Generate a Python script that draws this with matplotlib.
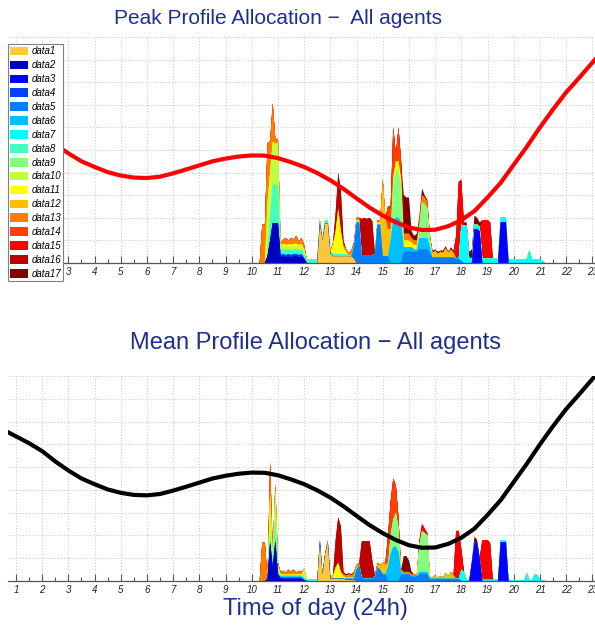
import numpy as np
import matplotlib
matplotlib.use("Agg")
import matplotlib.pyplot as plt

plt.rcParams['font.family'] = ['Liberation Sans', 'DejaVu Sans']

# time grid of the stacked profiles (hours, 6 min steps)
HOURS = np.round(np.arange(103, 213) / 10, 1)

LABELS = ['data%d' % i for i in range(1, 18)]
COLORS = ['#ffc83c', '#0000bf', '#0000ff', '#0040ff', '#0080ff', '#00bfff',
          '#00ffff', '#40ffbf', '#80ff80', '#bfff40', '#ffff00', '#ffbf00',
          '#ff8000', '#ff4000', '#ff0000', '#bf0000', '#800000']

# price curve (hour, value), same for both panels
curve_hours = [0.7, 1.5, 2.0, 2.5, 3.0, 3.5, 4.0, 4.5, 5.0, 5.5, 6.0, 6.5, 7.0, 7.5,
               8.0, 8.5, 9.0, 9.5, 10.0, 10.5, 11.0, 11.5, 12.0, 12.5, 13.0, 13.5,
               14.0, 14.5, 15.0, 15.5, 16.0, 16.5, 17.0, 17.5, 18.0, 18.5, 19.0,
               19.5, 20.0, 20.5, 21.0, 21.5, 22.0, 22.5, 23.1]
curve_values = [6.53, 6.05, 5.7, 5.25, 4.85, 4.5, 4.25, 4.02, 3.87, 3.78, 3.76, 3.82,
                3.97, 4.14, 4.32, 4.5, 4.62, 4.71, 4.76, 4.75, 4.64, 4.46, 4.25, 3.98,
                3.66, 3.28, 2.86, 2.45, 2.1, 1.8, 1.57, 1.46, 1.47, 1.63, 1.9, 2.3,
                2.9, 3.55, 4.35, 5.15, 6.0, 6.8, 7.55, 8.2, 9.0]

# ---- peak profiles (hour, value) ----
peak_data1 = [(12.6, 1.75), (12.7, 1.0), (12.8, 1.75), (12.9, 1.75), (13.0, 0.4), (13.1, 0.3),
              (13.2, 0.3), (13.3, 0.3), (13.4, 0.3), (13.5, 0.3), (13.6, 0.3), (13.7, 0.3),
              (13.8, 0.3), (13.9, 0.2)]
peak_data2 = [(10.6, 0.3), (10.7, 1.0), (10.8, 1.77), (10.9, 1.77), (11.0, 1.77), (11.1, 0.25),
              (11.2, 0.3), (11.3, 0.25), (11.4, 0.3), (11.5, 0.25), (11.6, 0.3), (11.7, 0.3),
              (11.8, 0.25), (11.9, 0.3), (12.0, 0.2)]
peak_data3 = [(18.5, 1.5), (18.6, 1.5), (18.7, 1.4), (19.5, 1.8), (19.6, 1.8), (19.7, 1.8)]
peak_data4 = [(11.1, 0.1), (11.2, 0.1), (11.3, 0.1), (11.4, 0.1), (11.5, 0.1), (11.6, 0.1),
              (11.7, 0.1), (11.8, 0.1), (11.9, 0.1)]
peak_data5 = [(13.9, 0.5), (14.0, 1.8), (14.1, 1.8), (14.2, 0.35), (14.3, 0.35), (14.4, 0.35),
              (14.5, 0.35), (14.6, 0.35), (14.7, 0.4), (14.8, 1.7), (14.9, 1.7), (15.0, 0.3),
              (15.1, 0.3), (15.2, 0.3), (15.8, 0.5), (15.9, 0.5), (16.0, 0.5), (16.1, 0.5),
              (16.2, 0.5), (16.3, 0.5), (16.4, 0.6), (16.5, 0.6), (16.6, 0.6), (16.7, 0.6),
              (16.8, 0.4), (16.9, 0.25), (17.0, 0.25), (17.1, 0.25), (17.2, 0.25), (17.3, 0.25),
              (17.4, 0.25), (17.5, 0.25), (17.6, 0.25), (17.7, 0.25), (17.8, 0.2), (17.9, 0.2),
              (18.0, 0.1)]
peak_data6 = [(15.3, 1.0), (15.4, 1.9), (15.5, 2.0), (15.6, 2.0), (15.7, 1.8), (15.8, 0.2),
              (15.9, 0.2), (16.0, 0.2), (16.1, 0.2), (16.2, 0.1), (16.3, 0.1), (16.4, 0.5),
              (16.5, 0.5), (16.6, 0.5), (16.7, 0.5), (16.8, 0.3)]
peak_data7 = [(18.0, 1.6), (18.1, 1.65), (18.2, 1.65), (18.3, 0.2), (18.4, 0.2), (18.5, 0.2),
              (18.6, 0.2), (18.7, 0.2), (18.8, 0.2), (18.9, 0.2), (19.0, 0.2), (19.1, 0.2),
              (19.2, 0.2), (19.3, 0.2), (19.4, 0.15), (19.5, 0.2), (19.6, 0.2), (19.7, 0.2),
              (19.8, 0.15), (19.9, 0.15), (20.0, 0.15), (20.1, 0.15), (20.2, 0.15), (20.3, 0.15),
              (20.4, 0.15), (20.5, 0.2), (20.6, 0.55), (20.7, 0.15), (20.8, 0.15), (20.9, 0.15),
              (21.0, 0.15), (21.1, 0.1)]
peak_data8 = [(10.7, 1.0), (10.8, 1.7), (10.9, 1.7), (11.0, 1.68), (11.1, 0.2), (11.2, 0.2),
              (11.3, 0.2), (11.4, 0.2), (11.5, 0.2), (11.6, 0.2), (11.7, 0.2), (11.8, 0.2),
              (11.9, 0.2), (12.0, 0.2), (12.1, 0.15), (12.2, 0.15), (12.3, 0.15), (12.4, 0.15),
              (12.5, 0.15), (12.6, 0.15), (12.7, 0.1), (12.8, 0.15), (12.9, 0.15), (13.0, 0.1),
              (13.1, 0.1), (13.2, 0.1), (13.3, 0.1), (13.4, 0.1), (13.5, 0.1), (13.6, 0.1),
              (13.7, 0.05), (13.8, 0.05)]
peak_data9 = [(15.4, 1.5), (15.5, 2.1), (15.6, 2.1), (15.7, 1.6), (16.4, 0.5), (16.5, 1.6),
              (16.6, 1.5), (16.7, 1.3), (16.8, 0.4)]
peak_data10 = [(10.6, 2.4), (10.7, 2.0), (10.8, 1.9), (10.9, 1.8), (11.0, 1.85), (11.1, 0.15),
               (11.2, 0.15), (11.3, 0.15), (11.4, 0.15), (11.5, 0.15), (11.6, 0.15), (11.7, 0.15),
               (11.8, 0.15), (11.9, 0.15), (12.0, 0.2)]
peak_data11 = [(11.1, 0.1), (11.2, 0.1), (11.3, 0.1), (11.4, 0.1), (11.5, 0.1), (11.6, 0.1),
               (11.7, 0.1), (11.8, 0.1), (11.9, 0.1), (13.1, 0.4), (13.2, 1.0), (13.3, 2.0),
               (13.4, 1.0), (13.5, 0.3), (13.6, 0.1), (14.0, 0.1), (14.1, 0.1), (14.8, 0.1),
               (14.9, 0.1), (15.4, 0.4), (15.5, 0.4), (15.6, 0.4), (15.7, 0.3), (15.8, 0.3),
               (15.9, 0.3), (16.0, 0.3), (16.1, 0.2), (16.2, 0.2), (16.3, 0.2)]
peak_data12 = [(15.0, 3.4), (15.1, 1.7), (15.2, 1.2), (15.3, 0.5), (16.9, 0.2), (17.0, 0.3),
               (17.1, 0.15), (17.2, 0.25), (17.3, 0.2), (17.4, 0.4), (17.5, 0.2), (17.6, 0.35),
               (17.7, 0.2)]
peak_data13 = [(10.4, 1.7), (10.5, 1.7), (10.6, 2.6), (10.7, 1.4), (10.8, 1.7), (10.9, 0.2),
               (11.0, 0.2), (11.1, 0.1), (11.2, 0.2), (11.3, 0.3), (11.4, 0.15), (11.5, 0.3),
               (11.6, 0.2), (11.7, 0.35), (11.8, 0.15), (11.9, 0.25), (12.0, 0.2), (13.1, 0.1),
               (13.5, 0.1), (13.6, 0.1), (13.7, 0.1), (13.8, 0.2), (13.9, 0.2), (14.0, 0.1),
               (14.1, 0.1), (14.8, 0.1), (14.9, 0.1), (15.8, 0.3), (15.9, 0.3), (16.0, 0.3),
               (16.1, 0.2), (16.2, 0.2), (16.3, 0.2), (16.4, 0.3), (16.5, 0.3), (16.6, 0.3),
               (16.7, 0.3), (16.8, 0.1)]
peak_data14 = [(15.2, 1.0), (15.3, 1.0), (15.4, 2.2), (15.5, 0.3), (15.6, 1.5), (15.7, 0.8)]
peak_data15 = [(17.8, 1.0), (17.9, 3.4), (18.0, 1.9), (18.8, 1.7), (18.9, 1.7), (19.0, 1.7),
               (19.1, 1.6)]
peak_data16 = [(13.2, 0.8), (13.3, 1.6), (13.4, 1.8), (13.5, 0.2), (14.2, 1.6), (14.3, 1.65),
               (14.4, 1.6), (14.5, 1.65), (14.6, 1.5)]
peak_data17 = [(15.8, 1.7), (15.9, 1.6), (16.0, 1.6), (16.1, 0.3), (16.2, 0.2), (16.3, 0.3),
               (16.4, 0.2), (16.5, 0.3), (16.6, 0.1), (16.7, 0.1), (16.9, 0.1), (17.0, 0.05),
               (17.1, 0.1), (17.2, 0.05), (17.3, 0.1), (17.4, 0.1), (17.5, 0.05), (17.6, 0.1),
               (17.7, 0.1), (18.0, 0.1), (18.1, 0.15), (18.2, 0.15), (18.3, 0.3), (18.4, 0.4),
               (18.5, 0.4), (18.6, 0.3), (18.7, 0.2)]

# ---- mean profiles (hour, value) ----
mean_data1 = [(12.6, 1.7), (12.7, 0.3), (12.8, 1.2), (12.9, 1.7), (13.0, 0.1), (13.1, 0.1),
              (13.2, 0.1), (13.3, 0.1), (13.4, 0.1), (13.5, 0.1), (13.6, 0.05), (13.7, 0.05),
              (13.8, 0.05), (13.9, 0.05)]
mean_data2 = [(10.6, 0.1), (10.7, 1.7), (10.8, 0.6), (10.9, 1.75), (11.0, 0.3), (11.1, 0.1),
              (11.2, 0.1), (11.3, 0.1), (11.4, 0.1), (11.5, 0.1), (11.6, 0.1), (11.7, 0.1),
              (11.8, 0.1), (11.9, 0.1), (12.0, 0.05)]
mean_data3 = [(18.4, 0.8), (18.5, 1.7), (18.6, 1.7), (18.7, 1.0), (19.5, 1.7), (19.6, 1.7),
              (19.7, 1.7)]
mean_data4 = [(11.1, 0.05), (11.2, 0.05), (11.3, 0.05), (11.4, 0.05), (11.5, 0.05), (11.6, 0.05),
              (11.7, 0.05), (11.8, 0.05), (11.9, 0.05)]
mean_data5 = [(13.6, 0.05), (13.7, 0.05), (13.8, 0.05), (13.9, 0.05), (14.0, 0.5), (14.1, 0.7),
              (14.2, 0.15), (14.3, 0.1), (14.4, 0.1), (14.5, 0.1), (14.6, 0.1), (14.7, 0.2),
              (14.8, 0.6), (14.9, 0.5), (15.0, 0.3), (15.1, 0.3), (15.7, 0.3), (15.8, 0.3),
              (15.9, 0.3), (16.0, 0.3), (16.1, 0.2), (16.2, 0.2), (16.3, 0.2), (16.4, 0.3),
              (16.5, 0.3), (16.6, 0.3), (16.7, 0.3), (16.8, 0.1), (16.9, 0.1), (17.0, 0.1),
              (17.1, 0.1), (17.2, 0.1), (17.3, 0.1), (17.4, 0.1), (17.5, 0.1), (17.6, 0.1),
              (17.7, 0.1), (17.8, 0.1), (17.9, 0.1)]
mean_data6 = [(11.1, 0.05), (11.2, 0.05), (11.3, 0.05), (11.4, 0.05), (11.5, 0.05), (11.6, 0.05),
              (11.7, 0.05), (11.8, 0.05), (11.9, 0.05), (15.2, 0.6), (15.3, 1.2), (15.4, 1.5),
              (15.5, 1.5), (15.6, 1.3), (15.7, 0.1), (16.4, 0.1), (16.5, 0.1), (16.6, 0.1),
              (16.7, 0.1)]
mean_data7 = [(18.0, 0.5), (18.1, 0.4), (18.2, 0.05), (18.8, 0.05), (18.9, 0.05), (19.0, 0.05),
              (19.1, 0.05), (19.2, 0.05), (19.3, 0.05), (19.4, 0.05), (19.5, 0.1), (19.6, 0.1),
              (19.7, 0.1), (19.8, 0.05), (19.9, 0.03), (20.0, 0.03), (20.1, 0.03), (20.2, 0.03),
              (20.3, 0.03), (20.4, 0.03), (20.5, 0.35), (20.6, 0.03), (20.7, 0.03), (20.8, 0.3),
              (20.9, 0.25), (21.0, 0.03), (21.1, 0.03)]
mean_data8 = [(10.7, 0.3), (10.8, 0.3), (10.9, 0.9), (11.0, 0.2), (11.1, 0.05), (11.2, 0.05),
              (11.3, 0.05), (11.4, 0.05), (11.5, 0.05), (11.6, 0.05), (11.7, 0.05), (11.8, 0.05),
              (11.9, 0.05), (12.0, 0.1), (12.1, 0.05), (12.2, 0.05), (12.3, 0.05), (12.4, 0.05),
              (12.5, 0.05), (12.6, 0.1), (12.9, 0.1), (13.6, 0.05), (13.7, 0.05), (13.8, 0.05),
              (13.9, 0.05)]
mean_data9 = [(15.3, 0.8), (15.4, 1.2), (15.5, 1.5), (15.6, 1.0), (16.4, 1.2), (16.5, 1.8),
              (16.6, 1.7), (16.7, 1.6), (16.8, 0.1)]
mean_data10 = [(10.7, 1.8), (10.8, 0.3), (10.9, 1.4), (11.0, 0.2), (12.0, 0.4)]
mean_data11 = [(11.1, 0.05), (11.2, 0.05), (11.3, 0.05), (11.4, 0.05), (11.5, 0.05), (11.6, 0.05),
               (11.7, 0.05), (11.8, 0.05), (11.9, 0.05), (13.1, 0.1), (13.2, 0.5), (13.3, 0.7),
               (13.4, 0.3), (13.5, 0.1), (14.0, 0.1)]
mean_data12 = [(14.8, 0.1), (14.9, 0.2), (15.0, 0.5), (15.1, 0.4), (15.2, 0.2), (16.9, 0.05),
               (17.0, 0.15), (17.1, 0.05), (17.2, 0.1), (17.3, 0.05), (17.4, 0.25), (17.5, 0.1),
               (17.6, 0.3), (17.7, 0.15)]
mean_data13 = [(10.4, 1.7), (10.5, 1.7), (10.7, 1.4), (10.8, 0.1), (10.9, 0.2), (11.0, 0.1),
               (11.1, 0.1), (11.2, 0.15), (11.3, 0.05), (11.4, 0.2), (11.5, 0.1), (11.6, 0.2),
               (11.7, 0.05), (11.8, 0.15), (11.9, 0.1), (13.1, 0.05), (13.5, 0.1), (13.6, 0.1),
               (13.7, 0.15), (13.8, 0.1), (13.9, 0.2), (14.0, 0.1), (14.1, 0.1), (14.7, 0.05),
               (14.8, 0.1), (15.1, 0.1), (15.7, 0.1), (15.8, 0.1), (15.9, 0.1), (16.0, 0.1),
               (16.1, 0.1), (16.2, 0.1), (16.3, 0.1)]
mean_data14 = [(15.2, 1.2), (15.3, 1.5), (15.4, 1.8), (15.5, 1.2), (15.6, 0.5)]
mean_data15 = [(16.4, 0.2), (16.5, 0.3), (16.6, 0.2), (16.7, 0.1), (17.8, 2.1), (17.9, 2.1),
               (18.0, 0.9), (18.8, 1.75), (18.9, 1.75), (19.0, 1.75), (19.1, 1.6)]
mean_data16 = [(13.2, 1.2), (13.3, 2.0), (13.4, 2.0), (13.5, 0.1), (14.2, 1.6), (14.3, 1.65),
               (14.4, 1.65), (14.5, 1.65), (14.6, 0.8)]
mean_data17 = [(13.6, 0.05), (13.7, 0.05), (13.8, 0.05), (13.9, 0.05), (15.8, 0.7), (15.9, 0.7),
               (16.0, 0.5), (16.1, 0.1), (18.3, 0.05), (18.4, 0.1), (18.5, 0.25), (18.6, 0.1)]

PEAK = [peak_data1, peak_data2, peak_data3, peak_data4, peak_data5, peak_data6, peak_data7,
        peak_data8, peak_data9, peak_data10, peak_data11, peak_data12, peak_data13,
        peak_data14, peak_data15, peak_data16, peak_data17]
MEAN = [mean_data1, mean_data2, mean_data3, mean_data4, mean_data5, mean_data6, mean_data7,
        mean_data8, mean_data9, mean_data10, mean_data11, mean_data12, mean_data13,
        mean_data14, mean_data15, mean_data16, mean_data17]


def to_grid(points):
    vals = np.zeros(len(HOURS))
    for h, v in points:
        vals[int(round((h - HOURS[0]) * 10))] = v
    return vals


def draw_panel(ax, series, ymax, line_color):
    # cumulative tops; paint the tallest first so no seams show between layers
    tops = np.cumsum([to_grid(pts) for pts in series], axis=0)
    handles = [None] * len(series)
    for i in range(len(series) - 1, -1, -1):
        handles[i] = ax.fill_between(HOURS, 0, tops[i], facecolor=COLORS[i],
                                     lw=0, label=LABELS[i], zorder=2)
    ax.plot(curve_hours, curve_values, color=line_color, lw=3, zorder=3)

    ax.set_xlim(0.695, 23.1)
    ax.set_ylim(0, ymax)
    ax.set_xticks(range(1, 24))
    ax.set_xticks(np.arange(1.5, 23, 1), minor=True)
    ax.set_yticks(range(0, ymax + 1))
    ax.tick_params(axis='y', length=0, labelleft=False)
    ax.tick_params(axis='x', which='major', direction='in', length=5, width=0.8,
                   color='#555555', labelsize=7, pad=3, labelcolor='#222222')
    ax.tick_params(axis='x', which='minor', direction='in', length=3, width=0.8, color='#555555')
    for lbl in ax.get_xticklabels():
        lbl.set_fontstyle('italic')
    ax.grid(True, which='major', linestyle=(0, (1, 2)), color='#c4c4c4', lw=0.7)
    ax.set_axisbelow(True)
    for s in ['left', 'right', 'top']:
        ax.spines[s].set_visible(False)
    ax.spines['bottom'].set_color('#555555')
    ax.spines['bottom'].set_linewidth(0.9)
    return handles


fig = plt.figure(figsize=(5.95, 6.26), dpi=100)
ax1 = fig.add_axes([8 / 595, 1 - 263 / 626, 587 / 595, 226 / 626])
ax2 = fig.add_axes([8 / 595, 1 - 581 / 626, 587 / 595, 205 / 626])

h1 = draw_panel(ax1, PEAK, 10, '#ff0000')
draw_panel(ax2, MEAN, 9, '#000000')

leg = ax1.legend(h1, LABELS, loc='upper left', bbox_to_anchor=(8 / 595, 1 - 44 / 626),
                 bbox_transform=fig.transFigure,
                 prop={'family': 'Liberation Sans', 'style': 'italic', 'size': 7},
                 handlelength=1.8, handleheight=1.0, labelspacing=0.4, handletextpad=0.35,
                 borderpad=0.25, borderaxespad=0, fancybox=False, framealpha=1,
                 edgecolor='#808080')
leg.get_frame().set_linewidth(0.8)
leg.set_zorder(10)

title_color = '#1f2f8f'
fig.text(278 / 595, 1 - 18 / 626, 'Peak Profile Allocation \u2212  All agents',
         ha='center', va='center', fontsize=15, color=title_color)
fig.text(315 / 595, 1 - 343 / 626, 'Mean Profile Allocation \u2212 All agents',
         ha='center', va='center', fontsize=17, color=title_color)
fig.text(315 / 595, 1 - 609 / 626, 'Time of day (24h)',
         ha='center', va='center', fontsize=17, color=title_color)

fig.savefig('out.png', dpi=100)
